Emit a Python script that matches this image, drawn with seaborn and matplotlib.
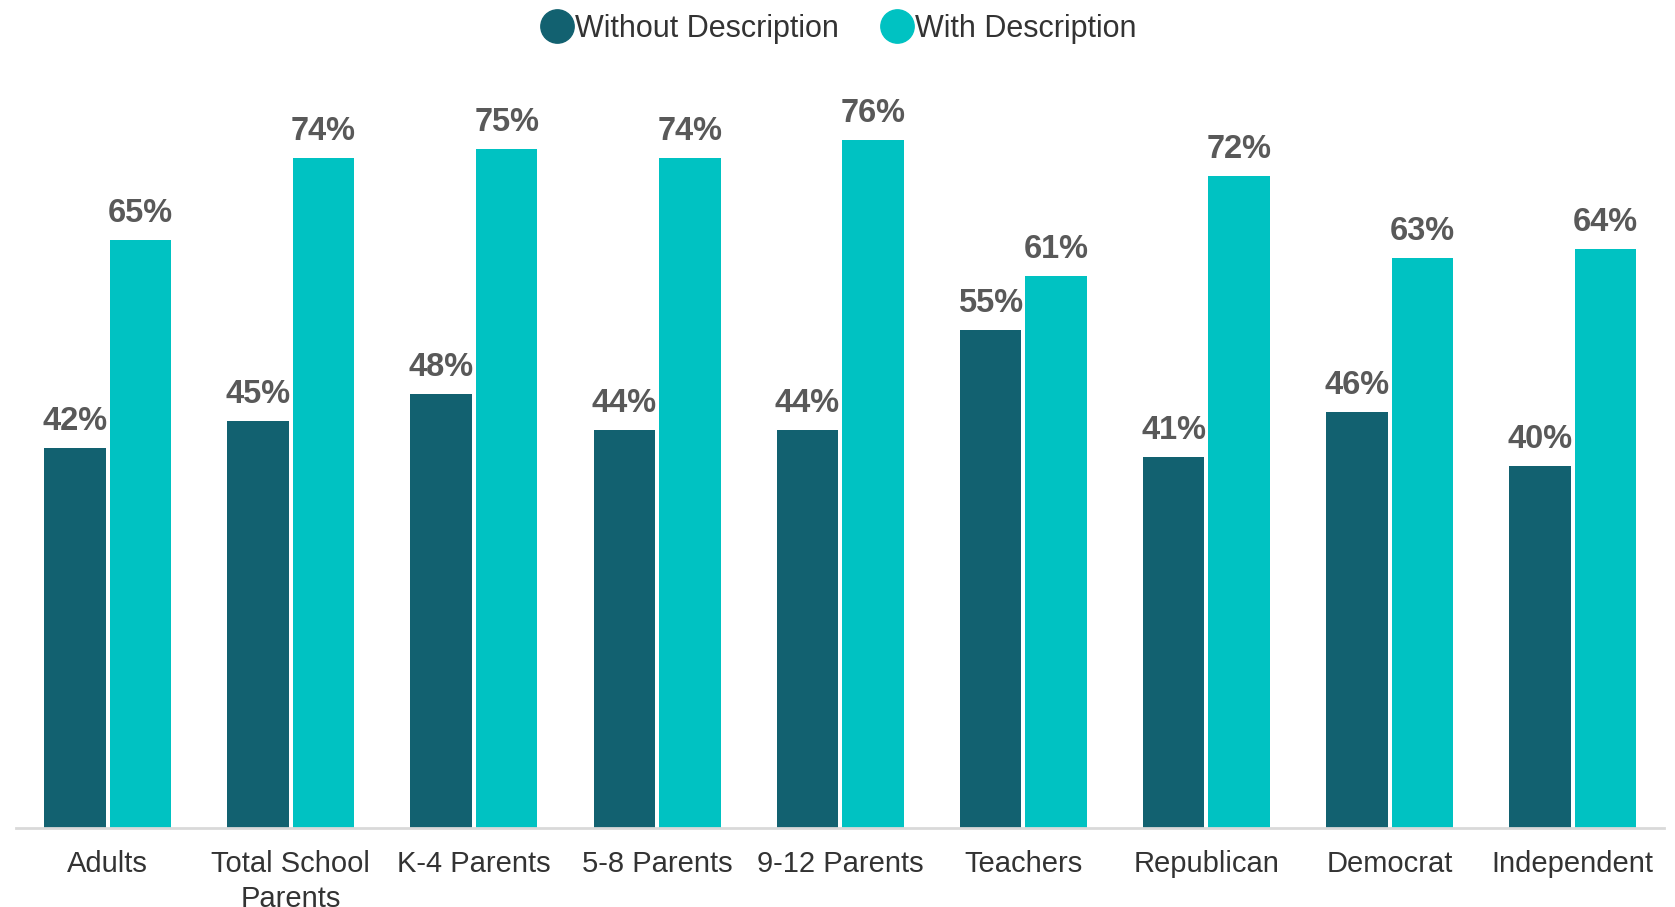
import matplotlib
matplotlib.use("Agg")
import matplotlib.pyplot as plt
import seaborn as sns
import pandas as pd
from matplotlib.lines import Line2D

categories = ["Adults", "Total School\nParents", "K-4 Parents", "5-8 Parents", "9-12 Parents",
              "Teachers", "Republican", "Democrat", "Independent"]
without_desc = [42, 45, 48, 44, 44, 55, 41, 46, 40]
with_desc = [65, 74, 75, 74, 76, 61, 72, 63, 64]
series_names = ["Without Description", "With Description"]
colors = ["#126170", "#00C2C2"]

df = pd.DataFrame({
    "category": categories * 2,
    "value": without_desc + with_desc,
    "series": [series_names[0]] * len(categories) + [series_names[1]] * len(categories),
})

sns.set_theme(style="white")
plt.rcParams["font.family"] = ["Liberation Sans", "DejaVu Sans"]

fig = plt.figure(figsize=(16.75, 9.07), dpi=100)
ax = fig.add_axes([0.0096, 0.0871, 0.984, 0.848])

sns.barplot(data=df, x="category", y="value", hue="series", order=categories,
            hue_order=series_names, palette=colors, width=0.715, gap=0.06,
            saturation=1, ax=ax, legend=False, linewidth=0)

for cont in ax.containers:
    ax.bar_label(cont, labels=[f"{v:.0f}%" for v in cont.datavalues], padding=8,
                 fontsize=23.5, fontweight="bold", color="#595959")

ax.set_xlim(-0.5, 8.5)
ax.set_ylim(0, 85)
ax.set_xlabel("")
ax.set_ylabel("")
ax.set_yticks([])
for s in ["top", "right", "left"]:
    ax.spines[s].set_visible(False)
ax.spines["bottom"].set_color("#d9d9d9")
ax.spines["bottom"].set_linewidth(2)
ax.tick_params(axis="x", length=0, pad=16, labelsize=21, labelcolor="#333333")
for t in ax.get_xticklabels():
    t.set_linespacing(1.3)

handles = [Line2D([0], [0], marker="o", linestyle="", markersize=24,
                  markerfacecolor=c, markeredgecolor=c) for c in colors]
fig.legend(handles, series_names, loc="center", bbox_to_anchor=(0.5, 0.968),
           ncol=2, frameon=False, fontsize=22, handletextpad=0.0,
           columnspacing=1.3, labelcolor="#333333", handlelength=1.2)

fig.savefig("out.png", dpi=100)
